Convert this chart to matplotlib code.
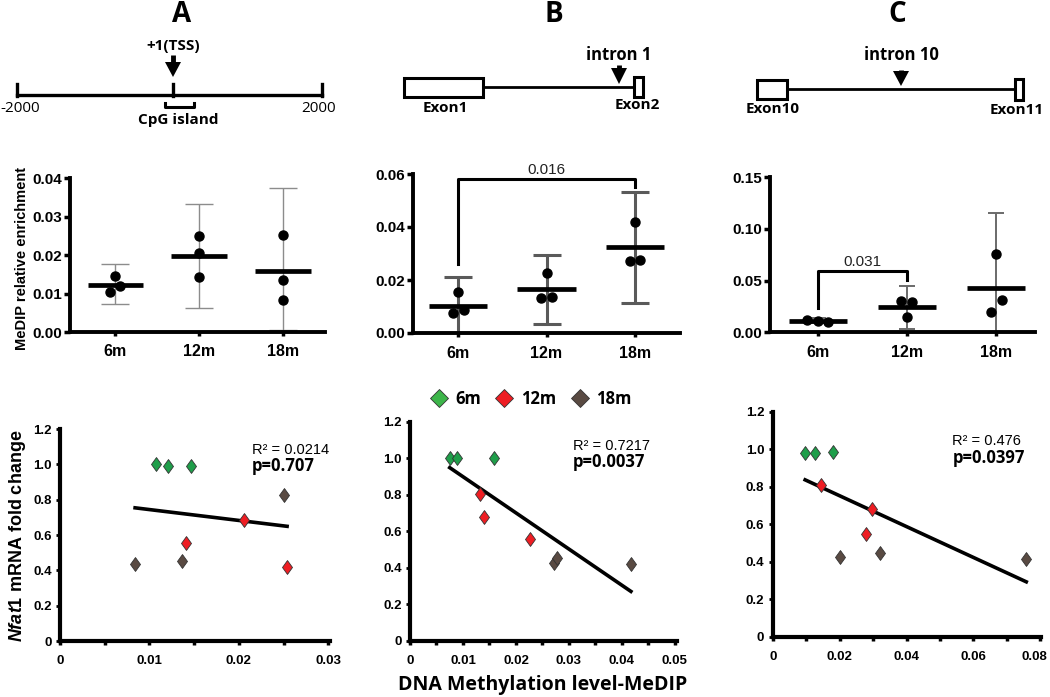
import matplotlib
matplotlib.use('Agg')
import matplotlib.pyplot as plt
import numpy as np
from matplotlib.lines import Line2D
from matplotlib.patches import Rectangle, Polygon
from matplotlib.path import Path
from matplotlib.ticker import FuncFormatter, MultipleLocator

plt.rcParams['font.family'] = ['Liberation Sans', 'DejaVu Sans']
plt.rcParams['mathtext.fontset'] = 'custom'
plt.rcParams['mathtext.it'] = 'Liberation Sans:italic:bold'
plt.rcParams['mathtext.rm'] = 'Liberation Sans:bold'

# ---------------- data ----------------
groups = ['6m', '12m', '18m']

# MeDIP relative enrichment: individual points, mean, 95% CI
a_pts = [[0.0147, 0.0120, 0.0104], [0.0249, 0.0206, 0.0142], [0.0253, 0.0136, 0.0083]]
a_mean = [0.0123, 0.0197, 0.0160]
a_lo = [0.0072, 0.0062, 0.0005]
a_hi = [0.0176, 0.0334, 0.0374]

b_pts = [[0.0154, 0.0087, 0.0074], [0.0225, 0.0137, 0.0131], [0.0420, 0.0275, 0.0273]]
b_mean = [0.0103, 0.0165, 0.0323]
b_lo = [0.0000, 0.0034, 0.0114]
b_hi = [0.0212, 0.0294, 0.0531]

c_pts = [[0.0120, 0.0110, 0.0100], [0.0152, 0.0300, 0.0290], [0.0755, 0.0310, 0.0200]]
c_mean = [0.0112, 0.0243, 0.0427]
c_lo = [0.0090, 0.0030, 0.0000]
c_hi = [0.0135, 0.0450, 0.1155]

# p-value brackets: (from group, to group, left leg end, right leg end, top, label)
b_bracket = (0, 2, 0.0262, 0.0550, 0.0582, '0.016')
c_bracket = (0, 1, 0.0240, 0.0510, 0.0597, '0.031')

# Nfat1 mRNA fold change vs methylation level
sa_x = [[0.0107, 0.0121, 0.0147], [0.0206, 0.0141, 0.0254], [0.0084, 0.0137, 0.0250]]
sa_y = [[1.004, 0.993, 0.989], [0.684, 0.555, 0.420], [0.435, 0.454, 0.825]]
sb_x = [[0.0075, 0.0088, 0.0158], [0.0132, 0.0139, 0.0226], [0.0271, 0.0277, 0.0417]]
sb_y = [[1.000, 1.000, 1.000], [0.804, 0.680, 0.556], [0.428, 0.452, 0.420]]
sc_x = [[0.0097, 0.0127, 0.0179], [0.0145, 0.0297, 0.0279], [0.0202, 0.0322, 0.0758]]
sc_y = [[0.979, 0.979, 0.987], [0.810, 0.680, 0.548], [0.427, 0.445, 0.415]]
r2_labels = ['R² = 0.0214', 'R² = 0.7217', 'R² = 0.476']
p_labels = ['p=0.707', 'p=0.0037', 'p=0.0397']

# ---------------- figure ----------------
W, H = 1050, 697
fig = plt.figure(figsize=(10.5, 6.97), dpi=100)


def px_axes(l, t, r, b):
    return fig.add_axes([l / W, 1 - b / H, (r - l) / W, (b - t) / H])


grp_colors = ['#1f9e4a', '#ee1d23', '#594a42']
leg_colors = ['#3db54a', '#ee1d23', '#594a42']
diamond = Path([(0, 1), (0.72, 0), (0, -1), (-0.72, 0), (0, 1)],
               [Path.MOVETO, Path.LINETO, Path.LINETO, Path.LINETO, Path.CLOSEPOLY])
narrow = ['Liberation Sans Narrow', 'DejaVu Sans Condensed', 'Liberation Sans']

# ---- gene diagrams (schematic overlay in pixel space) ----
ov = fig.add_axes([0, 0, 1, 1], zorder=-1)
ov.set_xlim(0, W)
ov.set_ylim(H, 0)
ov.axis('off')
dkw = dict(family='Open Sans', fontweight='bold', ha='center', va='center')


def down_arrow(x, top, head_top, tip, half=8):
    if head_top > top:
        ov.plot([x, x], [top, head_top + 1], color='black', lw=3.5, solid_capstyle='butt')
    ov.add_patch(Polygon([(x - half, head_top), (x + half, head_top), (x, tip)],
                         closed=True, color='black', lw=0))


for letter, x in zip(['A', 'B', 'C'], [182, 554, 897]):
    ov.text(x, 15, letter, fontsize=20, **dkw)

# A: promoter ruler
ov.plot([17, 322], [95, 95], color='black', lw=2.4)
for x in [17, 173, 322]:
    ov.plot([x, x], [84, 96], color='black', lw=2.4)
ov.plot([165, 165, 194, 194], [103, 107, 107, 103], color='black', lw=2.2)
down_arrow(173, 55, 62, 77)
ov.text(173, 46, '+1(TSS)', fontsize=11, **dkw)
ov.text(178, 120, 'CpG island', fontsize=11, **dkw)
ov.text(20, 109, '-2000', fontsize=11, family='Open Sans', ha='center', va='center')
ov.text(319, 109, '2000', fontsize=11, family='Open Sans', ha='center', va='center')

# B: exon1 - intron1 - exon2
ov.add_patch(Rectangle((404, 78), 79, 19, fill=False, lw=2.2))
ov.plot([483, 634], [87, 87], color='black', lw=2)
ov.add_patch(Rectangle((634, 77), 9, 20, fill=False, lw=2.2))
down_arrow(619, 65, 68, 84)
ov.text(619, 55, 'intron 1', fontsize=12, **dkw)
ov.text(445, 108, 'Exon1', fontsize=11, **dkw)
ov.text(637, 105, 'Exon2', fontsize=11, **dkw)

# C: exon10 - intron10 - exon11
ov.add_patch(Rectangle((757, 80), 30, 19, fill=False, lw=2.2))
ov.plot([787, 1015], [89, 89], color='black', lw=2)
ov.add_patch(Rectangle((1015, 79), 8, 21, fill=False, lw=2.2))
down_arrow(901, 70, 71, 86)
ov.text(901, 55, 'intron 10', fontsize=12, **dkw)
ov.text(773, 109, 'Exon10', fontsize=11, **dkw)
ov.text(1017, 110, 'Exon11', fontsize=11, **dkw)


# ---- middle row: dot plots ----
def dot_panel(box, pts, offs, mean, lo, hi, ylim, step, xlim, err_color, err_lw, cap, bracket=None):
    ax = px_axes(*box)
    ax.set_facecolor('none')
    xs = np.arange(1, len(groups) + 1)
    for i, x in enumerate(xs):
        ax.errorbar(x, mean[i], yerr=[[mean[i] - lo[i]], [hi[i] - mean[i]]], fmt='none',
                    ecolor=err_color, elinewidth=err_lw, capsize=cap, capthick=err_lw, zorder=2)
        ax.plot([x - 0.33, x + 0.33], [mean[i], mean[i]], color='black', lw=3.4,
                solid_capstyle='butt', zorder=3)
        ax.plot(x + np.array(offs[i]), pts[i], 'o', color='black', ms=6.5, zorder=4, clip_on=False)
    ax.set_xlim(*xlim)
    ax.set_ylim(0, ylim)
    ax.set_yticks(np.arange(0, ylim + step / 2, step))
    ax.yaxis.set_major_formatter(FuncFormatter(lambda v, p: f'{v:.2f}'))
    ax.set_xticks(xs)
    ax.set_xticklabels(groups)
    for s in ['top', 'right']:
        ax.spines[s].set_visible(False)
    for s in ['left', 'bottom']:
        ax.spines[s].set_linewidth(2.8)
    ax.tick_params(axis='y', length=4, width=2.5, pad=2)
    ax.tick_params(axis='x', length=3, width=2.5, pad=6)
    for lab in ax.get_yticklabels():
        lab.set_fontweight('bold')
        lab.set_fontsize(11)
    for lab in ax.get_xticklabels():
        lab.set_fontweight('bold')
        lab.set_fontsize(11.5)
    if bracket is not None:
        g0, g1, l0, l1, top, txt = bracket
        ax.plot([xs[g0], xs[g0], xs[g1], xs[g1]], [l0, top, top, l1], color='black',
                lw=2.2, clip_on=False, zorder=5)
        ax.text((xs[g0] + xs[g1]) / 2, top + ylim * 0.012, txt, ha='center', va='bottom',
                fontsize=11, color='#222222', clip_on=False)
    return ax


a_off = [[0, 0.06, -0.06], [0, 0, 0], [0, 0, 0]]
b_off = [[0, 0.07, -0.055], [0, 0.06, -0.06], [0, 0.06, -0.06]]
c_off = [[-0.12, 0, 0.11], [0, -0.07, 0.06], [0, 0.07, -0.06]]

dot_panel((70, 178.3, 325, 332), a_pts, a_off, a_mean, a_lo, a_hi, 0.04, 0.01,
          (0.46, 3.5), '#8c8c8c', 1.0, 10)
dot_panel((413, 174, 680, 333), b_pts, b_off, b_mean, b_lo, b_hi, 0.06, 0.02,
          (0.49, 3.51), '#5a5a5a', 2.2, 10, b_bracket)
dot_panel((770, 177.3, 1035, 332.4), c_pts, c_off, c_mean, c_lo, c_hi, 0.15, 0.05,
          (0.46, 3.44), '#6a6a6a', 1.4, 6, c_bracket)


# ---- bottom row: scatter + regression ----
def scatter_panel(box, xs, ys, xmax, major, r2, pval, txt_xy):
    ax = px_axes(*box)
    ax.set_facecolor('none')
    for i in range(len(groups)):
        ax.plot(xs[i], ys[i], ls='none', marker=diamond, ms=10, mfc=grp_colors[i],
                mec='#333333', mew=0.6, zorder=3, clip_on=False)
    allx = np.concatenate([np.array(v) for v in xs])
    ally = np.concatenate([np.array(v) for v in ys])
    k, b0 = np.polyfit(allx, ally, 1)
    lx = np.array([allx.min(), allx.max()])
    ax.plot(lx, k * lx + b0, color='black', lw=2.6, zorder=2)
    ax.set_xlim(0, xmax)
    ax.set_ylim(0, 1.2)
    ax.set_yticks(np.arange(0, 1.21, 0.2))
    ax.yaxis.set_major_formatter(FuncFormatter(lambda v, p: '0' if abs(v) < 1e-9 else f'{v:.1f}'))
    ax.xaxis.set_major_locator(MultipleLocator(major))
    ax.xaxis.set_minor_locator(MultipleLocator(major / 2))
    for s in ['top', 'right']:
        ax.spines[s].set_visible(False)
    for s in ['left', 'bottom']:
        ax.spines[s].set_linewidth(3)
    ax.tick_params(axis='y', length=3, width=2, pad=3)
    ax.tick_params(axis='x', which='both', length=3, width=2.5, pad=8)
    # x tick labels as annotations so the last one can be nudged inside the canvas
    ax.xaxis.set_major_formatter(FuncFormatter(lambda v, p: ''))
    ticks = np.arange(0, xmax + 1e-9, major)
    for j, v in enumerate(ticks):
        lab = '0' if j == 0 else f'{v:g}'
        dx = -4 if (j == len(ticks) - 1 and box[2] > W - 20) else 0
        ax.annotate(lab, xy=(v, 0), xycoords=('data', 'axes fraction'), xytext=(dx, -10),
                    textcoords='offset points', ha='center', va='top', family=narrow,
                    fontweight='bold', fontsize=9.5)
    for lab in ax.get_yticklabels():
        lab.set_family(narrow)
        lab.set_fontweight('bold')
        lab.set_fontsize(9.5)
    tx, ty = txt_xy
    ax.text(tx, ty, r2, transform=ax.transAxes, family=narrow, fontsize=10.5,
            ha='left', va='center')
    ax.text(tx, ty - 0.075, pval, transform=ax.transAxes, family='Open Sans',
            fontweight='bold', fontsize=12, ha='left', va='center')
    return ax


scatter_panel((60, 429, 330, 641), sa_x, sa_y, 0.0302, 0.01, r2_labels[0], p_labels[0], (0.71, 0.90))
scatter_panel((410, 421.8, 677, 640.7), sb_x, sb_y, 0.0504, 0.01, r2_labels[1], p_labels[1], (0.61, 0.89))
scatter_panel((772.7, 411.8, 1041, 636.7), sc_x, sc_y, 0.0802, 0.02, r2_labels[2], p_labels[2],
              (0.67, 0.87))

# legend
handles = [Line2D([], [], ls='none', marker='D', ms=9, mfc=c, mec='#333333', mew=0.6, label=g)
           for c, g in zip(leg_colors, groups)]
fig.legend(handles=handles, loc='center', bbox_to_anchor=(531 / W, 1 - 399 / H), ncol=3,
           frameon=False, prop=dict(family='Open Sans', weight='bold', size=12),
           handletextpad=0.5, columnspacing=0.9, handlelength=1.0)

# axis titles
fig.text(22 / W, 1 - 258 / H, 'MeDIP relative enrichment', rotation=90, ha='center', va='center',
         fontsize=10.5, fontweight='bold')
fig.text(18 / W, 1 - 536 / H, r'$\mathit{Nfat1}$ mRNA fold change', rotation=90, ha='center',
         va='center', fontsize=13, fontweight='bold')
fig.text(543 / W, 1 - 685 / H, 'DNA Methylation level-MeDIP', ha='center', va='center',
         fontsize=14, fontweight='bold', family='Open Sans')

fig.savefig('out.png', dpi=100)
plt.close(fig)
